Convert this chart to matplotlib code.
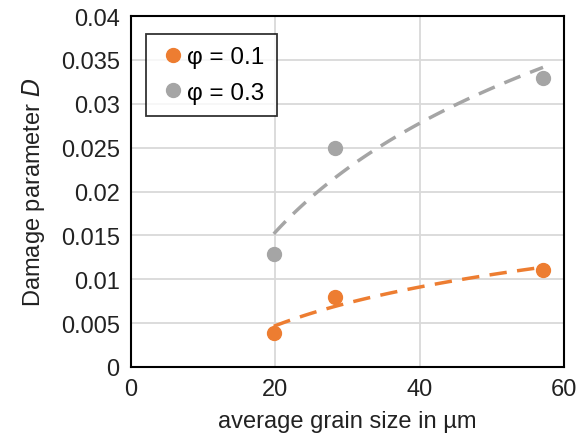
import matplotlib.pyplot as plt
import numpy as np

plt.rcParams['font.family'] = ['Liberation Sans', 'DejaVu Sans']

# grain size (um) and damage parameter for two phi values
grain_size = np.array([19.8, 28.3, 57.1])
damage_phi01 = np.array([0.0039, 0.0080, 0.0110])
damage_phi03 = np.array([0.0129, 0.0250, 0.0330])
labels = ['φ = 0.1', 'φ = 0.3']
colors = ['#ED7D31', '#A5A5A5']

fig = plt.figure(figsize=(5.79, 4.39), dpi=100)
ax = fig.add_axes([0.226, 0.162, 0.748, 0.799])

xs = np.linspace(grain_size.min(), grain_size.max(), 100)
for y, lab, c in zip([damage_phi01, damage_phi03], labels, colors):
    # logarithmic trend line like excel
    a, b = np.polyfit(np.log(grain_size), y, 1)
    ax.plot(xs, a * np.log(xs) + b, color=c, lw=2.5, dashes=(5, 3), zorder=2)
    ax.plot(grain_size, y, 'o', color=c, ms=10, label=lab, zorder=3)

ax.set_xlim(0, 60)
ax.set_ylim(0, 0.04)
ax.set_xticks([0, 20, 40, 60])
ax.set_yticks(np.arange(0, 0.0401, 0.005))
ax.set_yticklabels(['0', '0.005', '0.01', '0.015', '0.02', '0.025', '0.03', '0.035', '0.04'])
ax.grid(True, color='#d9d9d9', lw=1.3)
ax.set_axisbelow(True)
ax.tick_params(length=0, labelsize=17, colors='#222222', pad=8)
for s in ax.spines.values():
    s.set_linewidth(1.5)
    s.set_color('black')

ax.set_xlabel('average grain size in µm', fontsize=17, color='#222222', labelpad=7)
ax.set_ylabel('Damage parameter $\\it{D}$', fontsize=17, color='#222222', labelpad=10)

leg = ax.legend(loc='upper left', bbox_to_anchor=(0.035, 0.949), borderaxespad=0,
                fontsize=17.5, frameon=True, fancybox=False, handletextpad=0.0,
                handlelength=1.2, borderpad=0.5, labelspacing=0.55, markerscale=1.0)
leg.get_frame().set_edgecolor('black')
leg.get_frame().set_linewidth(1.3)

fig.savefig('out.png', dpi=100)
